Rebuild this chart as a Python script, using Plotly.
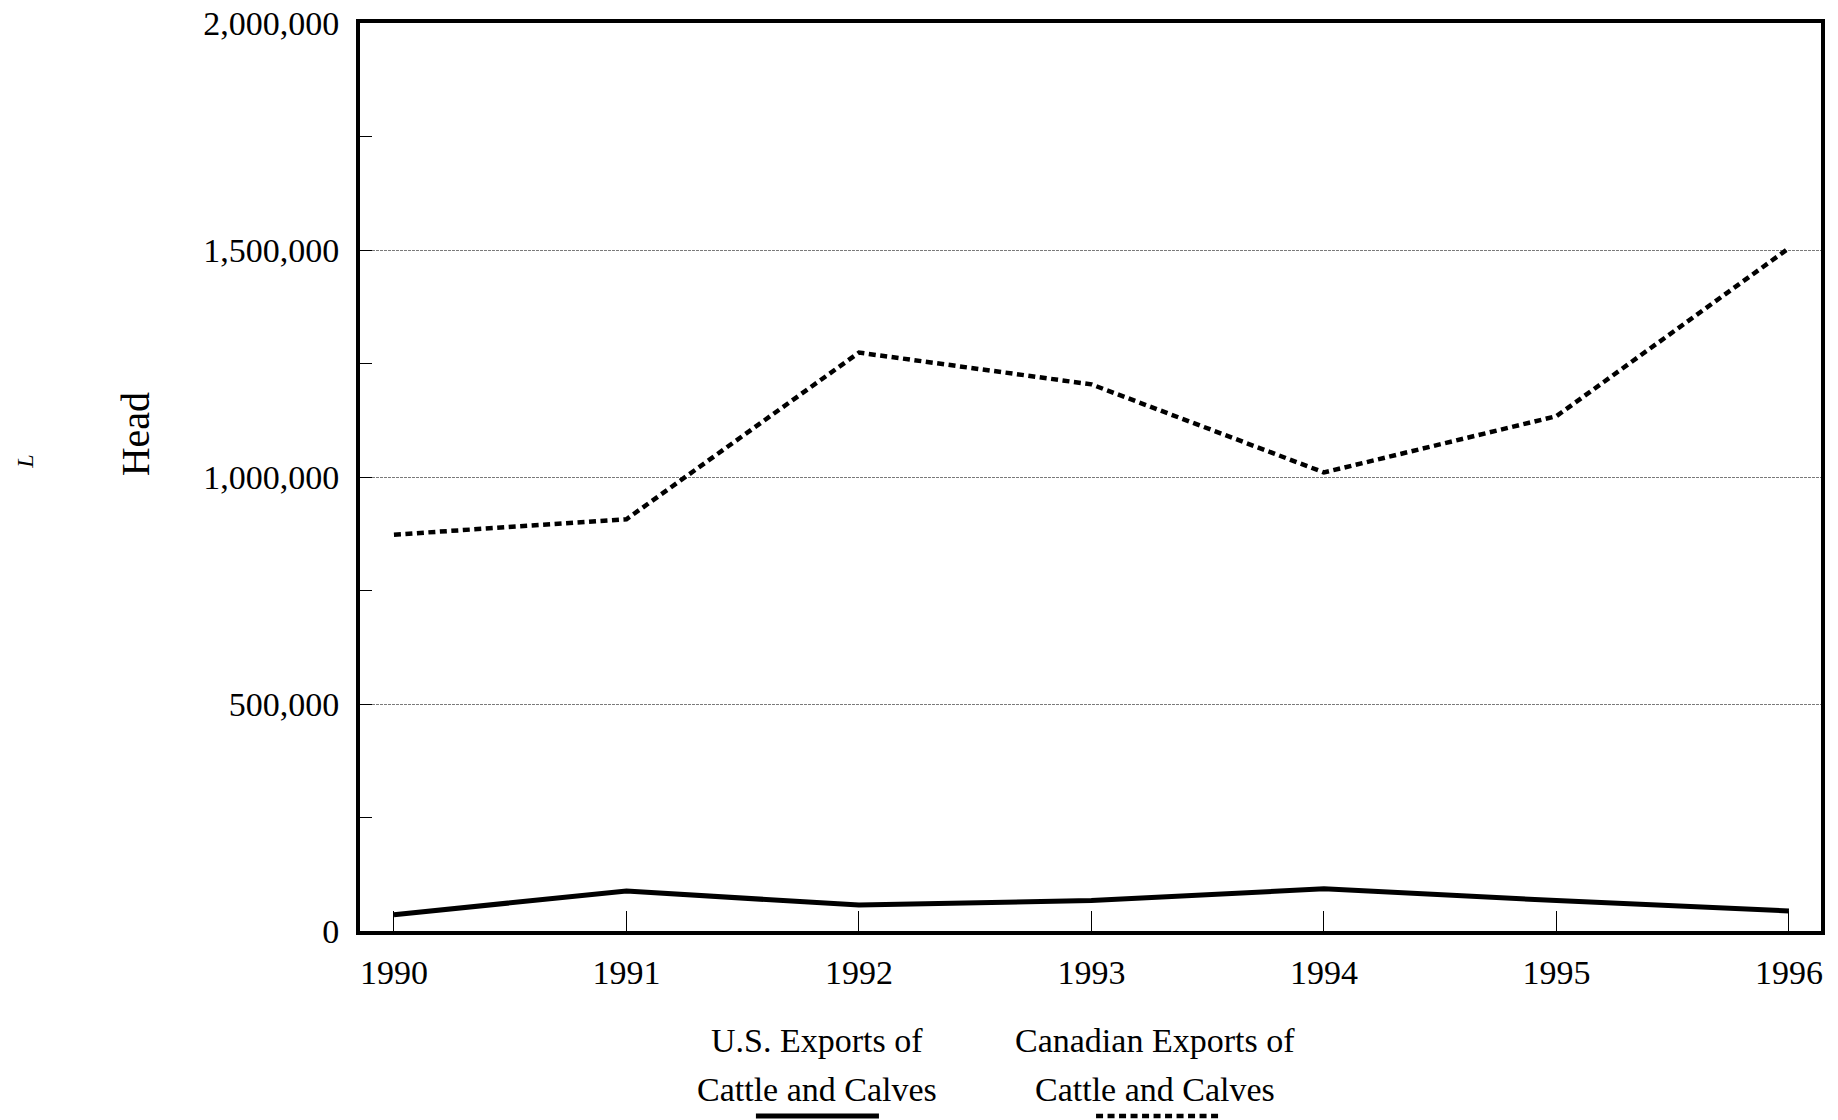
import plotly.graph_objects as go

years = [1990, 1991, 1992, 1993, 1994, 1995, 1996]
us_exports = [36000, 88000, 57000, 67000, 93000, 67000, 44000]
canadian_exports = [873000, 907000, 1274000, 1204000, 1010000, 1134000, 1504000]
y_tick_vals = [0, 500000, 1000000, 1500000, 2000000]
y_tick_text = ["0", "500,000", "1,000,000", "1,500,000", "2,000,000"]
series_names = ["U.S. Exports of<br>Cattle and Calves", "Canadian Exports of<br>Cattle and Calves"]

FONT = "Liberation Serif, Times New Roman, serif"

fig = go.Figure()
fig.add_trace(go.Scatter(x=years, y=us_exports, mode="lines",
                         line=dict(color="black", width=5), name=series_names[0],
                         showlegend=False))
fig.add_trace(go.Scatter(x=years, y=canadian_exports, mode="lines",
                         line=dict(color="black", width=4.5, dash="7px,4.5px"),
                         name=series_names[1], showlegend=False))

fig.update_layout(
    width=1830, height=1112,
    margin=dict(l=352, r=17, t=15, b=189),
    paper_bgcolor="white", plot_bgcolor="white",
    font=dict(family=FONT, size=34, color="black"),
)
fig.update_xaxes(
    range=[1989.854, 1996.138], tickvals=years, ticktext=[str(y) for y in years],
    ticks="inside", ticklen=20, tickwidth=1, tickcolor="black",
    showline=True, linewidth=4, linecolor="black", mirror=True,
    showgrid=False, zeroline=False, ticklabelstandoff=8, automargin=False,
    tickfont=dict(family=FONT, size=34),
)
fig.update_yaxes(
    range=[0, 2000000], tickvals=y_tick_vals, ticktext=y_tick_text,
    ticks="inside", ticklen=12, tickwidth=1, tickcolor="black",
    minor=dict(dtick=250000, ticks="inside", ticklen=12, tickwidth=1, tickcolor="black", showgrid=False),
    showline=True, linewidth=4, linecolor="black", mirror=True,
    showgrid=True, gridcolor="#7a7a7a", gridwidth=1, griddash="3px,1px",
    zeroline=False, ticklabelstandoff=10, ticklabeloverflow="allow", automargin=False,
    tickfont=dict(family=FONT, size=34),
)

# axis title
fig.add_annotation(text="Head", xref="paper", yref="paper", x=-0.154, y=0.547,
                   textangle=-90, showarrow=False, font=dict(family=FONT, size=40),
                   xanchor="center", yanchor="middle")
fig.add_annotation(text="<i>L</i>", xref="paper", yref="paper", x=-0.2295, y=0.5165,
                   textangle=-90, showarrow=False, font=dict(family=FONT, size=24),
                   xanchor="center", yanchor="middle")

# legend (text above line samples)
legend_x = [0.3128, 0.5441]
sample_x = [(0.271, 0.3552), (0.5038, 0.588)]
sample_dash = ["solid", "7px,4.5px"]
sample_w = [5, 4.5]
for i, name in enumerate(series_names):
    l1, l2 = name.split("<br>")
    fig.add_annotation(text=l1, xref="paper", yref="paper", x=legend_x[i], y=-0.1211,
                       showarrow=False, xanchor="center", yanchor="middle")
    fig.add_annotation(text=l2, xref="paper", yref="paper", x=legend_x[i], y=-0.1751,
                       showarrow=False, xanchor="center", yanchor="middle")
    fig.add_shape(type="line", xref="paper", yref="paper",
                  x0=sample_x[i][0], x1=sample_x[i][1], y0=-0.2037, y1=-0.2037,
                  line=dict(color="black", width=sample_w[i], dash=sample_dash[i]))

fig.write_html("out.html")
